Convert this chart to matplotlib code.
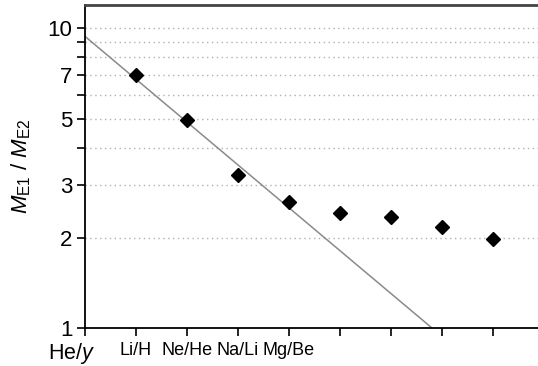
import matplotlib
matplotlib.use("Agg")
import matplotlib.pyplot as plt
from matplotlib.ticker import FixedLocator, NullFormatter

plt.rcParams["font.family"] = ["Liberation Sans", "DejaVu Sans"]
plt.rcParams["mathtext.fontset"] = "custom"
plt.rcParams["mathtext.rm"] = "Liberation Sans"
plt.rcParams["mathtext.it"] = "Liberation Sans:italic"

# data
pair_pos = [1, 2, 3, 4, 5, 6, 7, 8]
ratio = [6.96, 4.96, 3.25, 2.64, 2.42, 2.34, 2.18, 1.98]
fit_x = [0, 6.8]
fit_y = [9.4, 1.0]
xtick_pos = [0, 1, 2, 3, 4, 5, 6, 7, 8]
xtick_labels = ["", "Li/H", "Ne/He", "Na/Li", "Mg/Be", "", "", "", ""]
ytick_major = [1, 2, 3, 5, 7, 10]
ytick_minor = [4, 6, 8, 9]
grid_vals = [2, 3, 4, 5, 6, 7, 8, 9, 10]

fig = plt.figure(figsize=(5.38, 3.66), dpi=100)
ax = fig.add_axes([0.158, 0.104, 0.842, 0.882])

ax.set_yscale("log")
ax.set_ylim(1, 11.95)
ax.set_xlim(0, 8.88)

for g in grid_vals:
    ax.axhline(g, color="#b0b0b0", lw=1.0, ls=(0, (1, 2.5)), zorder=0)

ax.plot(fit_x, fit_y, color="#8a8a8a", lw=1.1, zorder=2)
ax.plot(pair_pos, ratio, ls="none", marker="D", ms=7.5, color="black", zorder=3)

ax.yaxis.set_major_locator(FixedLocator(ytick_major))
ax.yaxis.set_minor_locator(FixedLocator(ytick_minor))
ax.set_yticklabels([str(v) for v in ytick_major])
ax.yaxis.set_minor_formatter(NullFormatter())
ax.tick_params(axis="y", which="both", direction="out", length=6, width=1.2,
               labelsize=16, pad=3)

ax.set_xticks(xtick_pos)
ax.set_xticklabels(xtick_labels)
ax.tick_params(axis="x", direction="out", length=6, width=1.2, labelsize=13, pad=4)

for side in ("left", "bottom"):
    ax.spines[side].set_linewidth(1.3)
ax.spines["top"].set_linewidth(2.0)
ax.spines["top"].set_color("#444444")
ax.spines["right"].set_visible(False)

ax.set_ylabel(r"$M_{\mathrm{E1}}$ / $M_{\mathrm{E2}}$", fontsize=16)
ax.yaxis.set_label_coords(-0.115, 0.5)

ax.text(0.022, -0.08, r"He/$y$", transform=ax.transAxes, fontsize=15.5,
        ha="right", va="center")

fig.savefig("out.png", dpi=100)
